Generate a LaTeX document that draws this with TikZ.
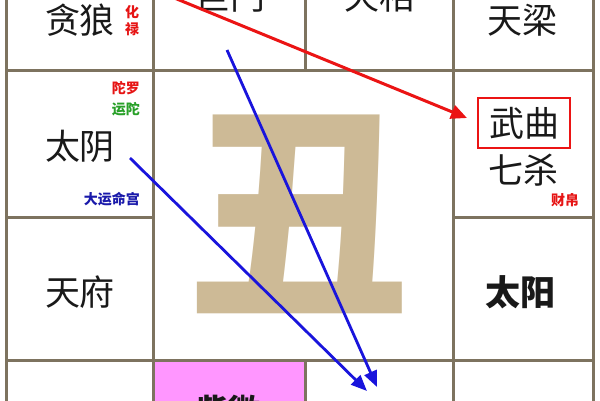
\documentclass[tikz,border=0pt]{standalone}
\usepackage{fontspec}
\newfontfamily\cjk{Noto Sans CJK SC}
\usetikzlibrary{arrows.meta}
\definecolor{gridc}{RGB}{125,115,95}
\definecolor{bigc}{RGB}{205,186,150}
\definecolor{tagred}{RGB}{230,20,20}
\definecolor{taggreen}{RGB}{40,160,40}
\definecolor{tagblue}{RGB}{25,25,170}
\definecolor{pinkc}{RGB}{255,150,255}
\definecolor{arrred}{RGB}{235,20,20}
\definecolor{arrblue}{RGB}{25,20,220}
\begin{document}
\begin{tikzpicture}[x=1pt,y=-1pt,
  star/.style={font=\cjk\fontsize{35}{37}\selectfont, inner sep=0pt, text=black!90},
  tag/.style={font=\cjk\bfseries\fontsize{14}{16}\selectfont, inner sep=0pt},
  gridline/.style={draw=gridc, line width=3pt},
  redarrow/.style={draw=arrred, line width=3pt, -{Triangle[length=16pt,width=14pt]}},
  bluearrow/.style={draw=arrblue, line width=2.8pt, -{Triangle[length=16pt,width=13pt]}}]
\useasboundingbox (0,0) rectangle (600,400);
\clip (0,0) rectangle (600,400);
\fill[white] (0,0) rectangle (600,400);
% pink cell
\fill[pinkc] (153,360) rectangle (305,410);
% big character
\node[inner sep=0pt, text=bigc, font=\cjk\bfseries\fontsize{222}{222}\selectfont] (big) at (299,214) {丑};
% grid
\draw[gridline] (6,-10) -- (6,410);
\draw[gridline] (593,-10) -- (593,410);
\draw[gridline] (153,-10) -- (153,410);
\draw[gridline] (453,-10) -- (453,410);
\draw[gridline] (305,-10) -- (305,70);
\draw[gridline] (305,360) -- (305,410);
\draw[gridline] (6,70) -- (593,70);
\draw[gridline] (6,217) -- (153,217);
\draw[gridline] (453,217) -- (593,217);
\draw[gridline] (6,360) -- (593,360);
% top row
\node[star] (tanlang) at (80,20) {贪狼};
\node[tag, text=tagred, align=center, font=\cjk\bfseries\fontsize{14}{17}\selectfont] (hualu) at (132,21) {化\\禄};
\node[star] (jumen) at (230,-4) {巨门};
\node[star] (tianxiang) at (379,-4) {天相};
\node[star] (tianliang) at (522,20) {天梁};
% second row
\node[tag, text=tagred, anchor=east] (tuoluo) at (140,88) {陀罗};
\node[tag, text=taggreen, anchor=east] (yuntuo) at (140,109) {运陀};
\node[star] (taiyin) at (80,146) {太阴};
\node[tag, text=tagblue, anchor=east] (mingong) at (140,199) {大运命宫};
\node[star, draw=arrred, line width=2pt, minimum width=92pt, minimum height=50pt] (wuqu) at (524,123) {武曲};
\node[star] (qisha) at (523,170) {七杀};
\node[tag, text=tagred] (caibo) at (565,200) {财帛};
% third row
\node[star] (tianfu) at (80,292) {天府};
\node[star, font=\cjk\bfseries\fontsize{35}{37}\selectfont] (taiyang) at (520,292) {太阳};
% bottom row
\node[star, font=\cjk\bfseries\fontsize{32}{34}\selectfont] (ziwei) at (228,410) {紫微};
% arrows
\coordinate (rs) at (150,-12);
\coordinate (re) at (467,118);
\coordinate (b1s) at (227,50);
\coordinate (b1e) at (377,387);
\coordinate (b2s) at (130,158);
\coordinate (b2e) at (367,391);
\draw[redarrow] (rs) -- (re);
\draw[bluearrow] (b1s) -- (b1e);
\draw[bluearrow] (b2s) -- (b2e);
\end{tikzpicture}
\end{document}
